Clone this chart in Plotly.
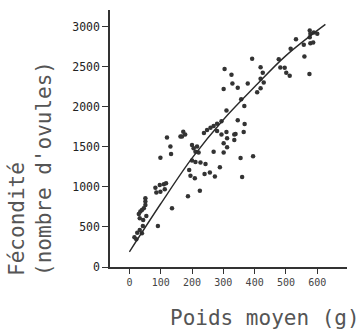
import plotly.graph_objects as go

# Scatter data: mean weight (g) vs fecundity (number of ova)
poids = [16, 22, 25, 33, 40, 43, 44, 33, 54, 30, 35, 40, 46, 51, 51, 51, 91, 136,
         83, 97, 110, 117, 86, 99, 113, 99, 120, 131, 133, 163,
         168, 172, 178, 200, 205, 216, 211, 221, 200, 211, 227, 243,
         191, 195, 187, 225, 209, 240, 257, 273, 289, 360,
         269, 301, 312, 355, 395,
         238, 248, 259, 269, 280, 280, 294, 310, 312, 301, 335, 335, 339, 365,
         294, 310, 346, 368, 357, 367,
         301, 304, 326, 329, 346, 378, 392, 408, 419, 419, 426, 419, 429,
         477, 482, 496, 501, 512, 515, 532, 557, 559, 575, 576, 578, 589, 600, 576, 578, 587]
fecondite = [371, 346, 429, 462, 421, 512, 587, 608, 637, 662, 692, 712, 733, 775, 817, 858, 512, 733,
             991, 1025, 1033, 1046, 929, 941, 971, 1366, 1616, 1504, 1412, 1629,
             1630, 1690, 1655, 1525, 1483, 1504, 1441, 1429, 1330, 1310, 1304, 1285,
             1210, 1140, 883, 952, 1108, 1162, 1180, 1129, 1246, 1125,
             1441, 1429, 1496, 1362, 1383,
             1675, 1712, 1740, 1760, 1790, 1700, 1656, 1685, 1608, 1546, 1655, 1587, 1662, 1685,
             1820, 1954, 1833, 1786, 2096, 2012,
             2223, 2473, 2400, 2292, 2240, 2292, 2600, 2184, 2234, 2495, 2425, 2350, 2304,
             2596, 2491, 2490, 2425, 2390, 2725, 2846, 2775, 2629, 2412, 2954, 2912, 2929, 2912, 2871, 2796, 2804]

# Fitted curve
courbe_x = [0, 100, 200, 300, 400, 500, 626]
courbe_y = [190, 790, 1360, 1840, 2250, 2640, 3030]

x_ticks = [0, 100, 200, 300, 400, 500, 600]
y_ticks = [0, 500, 1000, 1500, 2000, 2500, 3000]

fig = go.Figure()
fig.add_trace(go.Scatter(x=poids, y=fecondite, mode="markers",
                         marker=dict(size=4.5, color="#333333"),
                         showlegend=False, hoverinfo="skip"))
fig.add_trace(go.Scatter(x=courbe_x, y=courbe_y, mode="lines",
                         line=dict(color="#2a2a2a", width=1.4, shape="spline"),
                         showlegend=False, hoverinfo="skip"))

mono = "DejaVu Sans Mono"
fig.update_layout(
    width=359, height=331,
    margin=dict(l=110, r=12, t=10, b=64),
    paper_bgcolor="white", plot_bgcolor="white",
    xaxis=dict(range=[-62, 695], tickvals=x_ticks, ticks="outside", ticklen=5,
               tickwidth=1.2, tickcolor="#333", showline=True, linecolor="#333",
               linewidth=1.5, showgrid=False, zeroline=False,
               tickfont=dict(family=mono, size=10, color="#444")),
    yaxis=dict(range=[0, 3210], tickvals=y_ticks, ticks="outside", ticklen=6,
               tickwidth=1.2, tickcolor="#333", showline=True, linecolor="#333",
               linewidth=1.5, showgrid=False, zeroline=False,
               tickfont=dict(family=mono, size=11.5, color="#222")),
    annotations=[
        dict(text="Poids moyen (g)", xref="paper", yref="paper", x=0.655, y=-0.198,
             xanchor="center", yanchor="middle", showarrow=False,
             font=dict(family=mono, size=21, color="#555")),
        dict(text="Fécondité<br>(nombre d'ovules)", xref="paper", yref="paper",
             x=-0.338, y=-0.041, xanchor="center", yanchor="bottom", align="left",
             textangle=-90, showarrow=False,
             font=dict(family=mono, size=21, color="#555")),
    ],
)

fig.write_html("out.html")
